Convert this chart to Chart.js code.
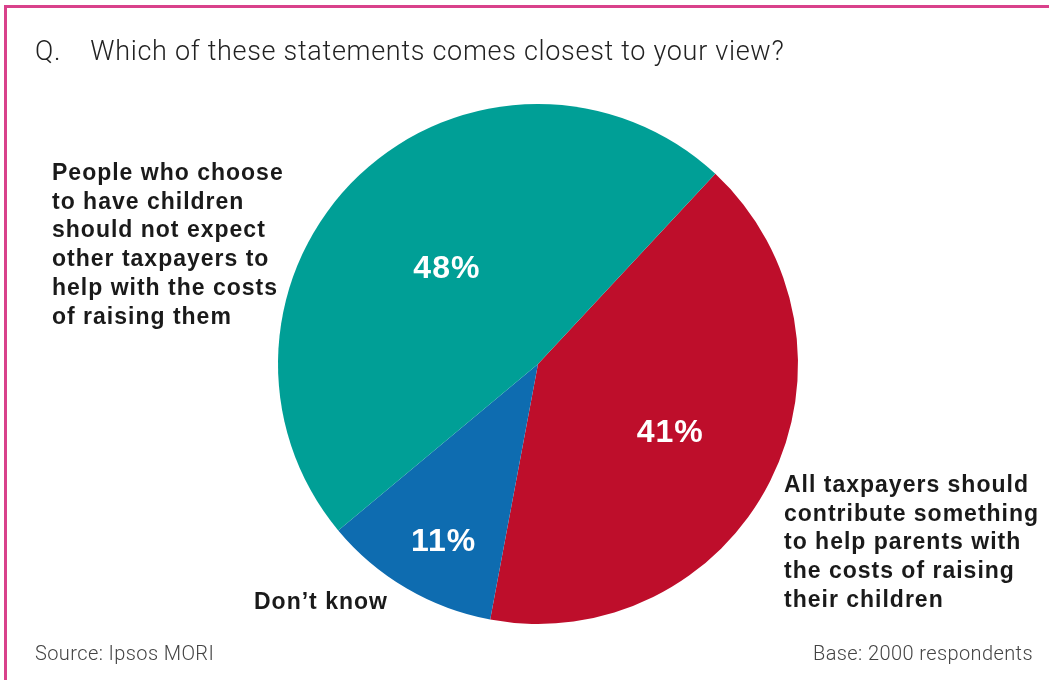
<!DOCTYPE html>
<html>
<head>
<meta charset="utf-8">
<script src="https://cdn.jsdelivr.net/npm/chart.js@4"></script>
<style>
  html, body { margin: 0; padding: 0; background: #fff; }
  #wrap { position: relative; width: 1049px; height: 680px; overflow: hidden; font-family: 'Liberation Sans', Arial, sans-serif; }
  #frame { position: absolute; left: 4px; top: 5px; width: 1100px; height: 700px; border-top: 3px solid #d9418b; border-left: 3px solid #d9418b; }
  canvas { position: absolute; left: 0; top: 0; }
  .title { position: absolute; left: 35px; top: 35px; font-family: Roboto, 'Liberation Sans', sans-serif; font-weight: 300; font-size: 27px; letter-spacing: 0.7px; color: #222; white-space: nowrap; }
  .lab { position: absolute; font-weight: bold; font-size: 23px; letter-spacing: 1px; line-height: 28.7px; color: #1a1a1a; white-space: nowrap; }
  .foot { position: absolute; top: 641px; font-family: Roboto, 'Liberation Sans', sans-serif; font-weight: 300; font-size: 20px; letter-spacing: 0.4px; color: #444; white-space: nowrap; }
</style>
</head>
<body>
<div id="wrap">
  <div id="frame"></div>
  <canvas id="myChart" width="1049" height="680"></canvas>
  <div class="title">Q.&nbsp;&nbsp;&nbsp;&nbsp;Which of these statements comes closest to your view?</div>
  <div class="lab" style="left:52px; top:158px;">People who choose<br>to have children<br>should not expect<br>other taxpayers to<br>help with the costs<br>of raising them</div>
  <div class="lab" style="left:784px; top:470px;">All taxpayers should<br>contribute something<br>to help parents with<br>the costs of raising<br>their children</div>
  <div class="lab" style="left:254px; top:587px;">Don’t know</div>
  <div class="foot" style="left:35px;">Source: Ipsos MORI</div>
  <div class="foot" style="right:16px;">Base: 2000 respondents</div>
</div>
<script>
const categories = ['All taxpayers should contribute', "Don't know", 'People who choose to have children should not expect help']
const shares = [41, 11, 48]
const sliceColors = ['#be0e2b', '#0e6cb0', '#009f96']
// how far out (fraction of radius) each % label sits
const labelDepth = [0.57, 0.77, 0.51]

const pctLabels = {
    id: 'pctLabels',
    afterDatasetsDraw(chart) {
        const ctx = chart.ctx
        const arcs = chart.getDatasetMeta(0).data
        ctx.save()
        ctx.fillStyle = '#fff'
        ctx.font = 'bold 32px "Liberation Sans", Arial, sans-serif'
        ctx.letterSpacing = '1px'
        ctx.textAlign = 'center'
        ctx.textBaseline = 'middle'
        arcs.forEach((arc, i) => {
            const mid = (arc.startAngle + arc.endAngle) / 2 - (i === 1 ? 0.04 : 0)
            const r = arc.outerRadius * labelDepth[i]
            ctx.fillText(shares[i] + '%', arc.x + Math.cos(mid) * r, arc.y + Math.sin(mid) * r + 2)
        })
        ctx.restore()
    }
}

const ctx = document.getElementById('myChart')
new Chart(ctx, {
    type: 'pie',
    data: {
        labels: categories,
        datasets: [{
            data: shares,
            backgroundColor: sliceColors,
            borderWidth: 0
        }]
    },
    options: {
        responsive: false,
        animation: false,
        rotation: 43,
        layout: { padding: { left: 278, right: 251, top: 104, bottom: 56 } },
        plugins: {
            legend: { display: false },
            tooltip: { enabled: false }
        }
    },
    plugins: [pctLabels]
})
</script>
</body>
</html>
